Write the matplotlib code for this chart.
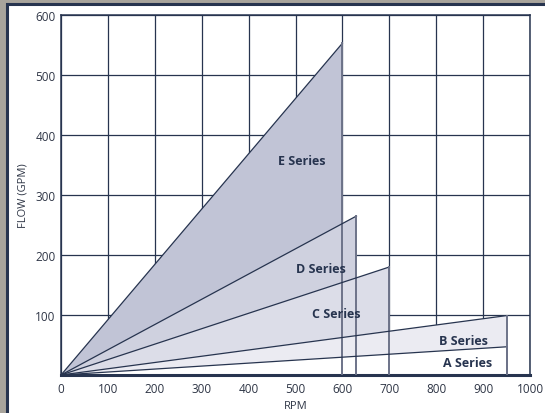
import matplotlib

matplotlib.use("Agg")

import matplotlib.pyplot as plt
from matplotlib.patches import Polygon, Rectangle

# Pump series envelopes: each one is a wedge from the origin up to max rpm / flow
series = ["E Series", "D Series", "C Series", "B Series", "A Series"]
max_rpm = [600, 630, 700, 950, 950]
max_flow = [553, 265, 180, 99, 47]
label_x = [514, 555, 586, 859, 866]
label_y = [357, 178, 103, 58, 20]
fills = ["#c1c4d6", "#cfd1df", "#dcdde8", "#ebebf2", "#ffffff"]

x_ticks = list(range(0, 1001, 100))
y_ticks = list(range(100, 601, 100))

NAVY = "#27344f"
EDGE = "#6d7389"

plt.rcParams["font.family"] = ["Open Sans", "DejaVu Sans"]

fig = plt.figure(figsize=(5.45, 4.14), dpi=100)
fig.patch.set_facecolor("#a8a49c")

# white panel with dark border, running off the right/bottom
panel = Rectangle((7 / 545, -0.1), 1.2, 1.1 - 4.5 / 414,
                  transform=fig.transFigure, facecolor="white",
                  edgecolor=NAVY, linewidth=2.2, zorder=-5)
fig.add_artist(panel)

ax = fig.add_axes([61 / 545, 1 - 376 / 414, 469 / 545, 360 / 414])
ax.set_zorder(1)
ax.set_facecolor("white")
ax.set_xlim(0, 1000)
ax.set_ylim(0, 600)
ax.set_xticks(x_ticks)
ax.set_yticks(y_ticks)
ax.tick_params(length=0, labelsize=8.5, colors="#2f3646")
ax.tick_params(axis="x", pad=5)
ax.tick_params(axis="y", pad=4)
ax.grid(True, color=NAVY, linewidth=0.9)
ax.set_axisbelow(True)

for side in ["top", "right", "left"]:
    ax.spines[side].set_color(NAVY)
    ax.spines[side].set_linewidth(1.1)
ax.spines["bottom"].set_color(NAVY)
ax.spines["bottom"].set_linewidth(2.2)

for name, xm, ym, lx, ly, fc in zip(series, max_rpm, max_flow, label_x, label_y, fills):
    poly = Polygon([(0, 0), (xm, ym), (xm, 0)], closed=True,
                   facecolor=fc, edgecolor="none", zorder=2)
    ax.add_patch(poly)
    ax.plot([0, xm], [0, ym], color=NAVY, linewidth=0.9, zorder=3)
    ax.plot([xm, xm], [ym, 0], color=EDGE, linewidth=1.4, zorder=3)
    ax.text(lx, ly, name, ha="center", va="center", fontsize=9,
            fontweight="bold", color=NAVY, zorder=4)

ax.set_xlabel("RPM", fontsize=8, color="#2f3646", labelpad=4)
ax.set_ylabel("FLOW (GPM)", fontsize=8, color="#2f3646", labelpad=5)

fig.savefig("out.png", dpi=100, facecolor=fig.get_facecolor())
